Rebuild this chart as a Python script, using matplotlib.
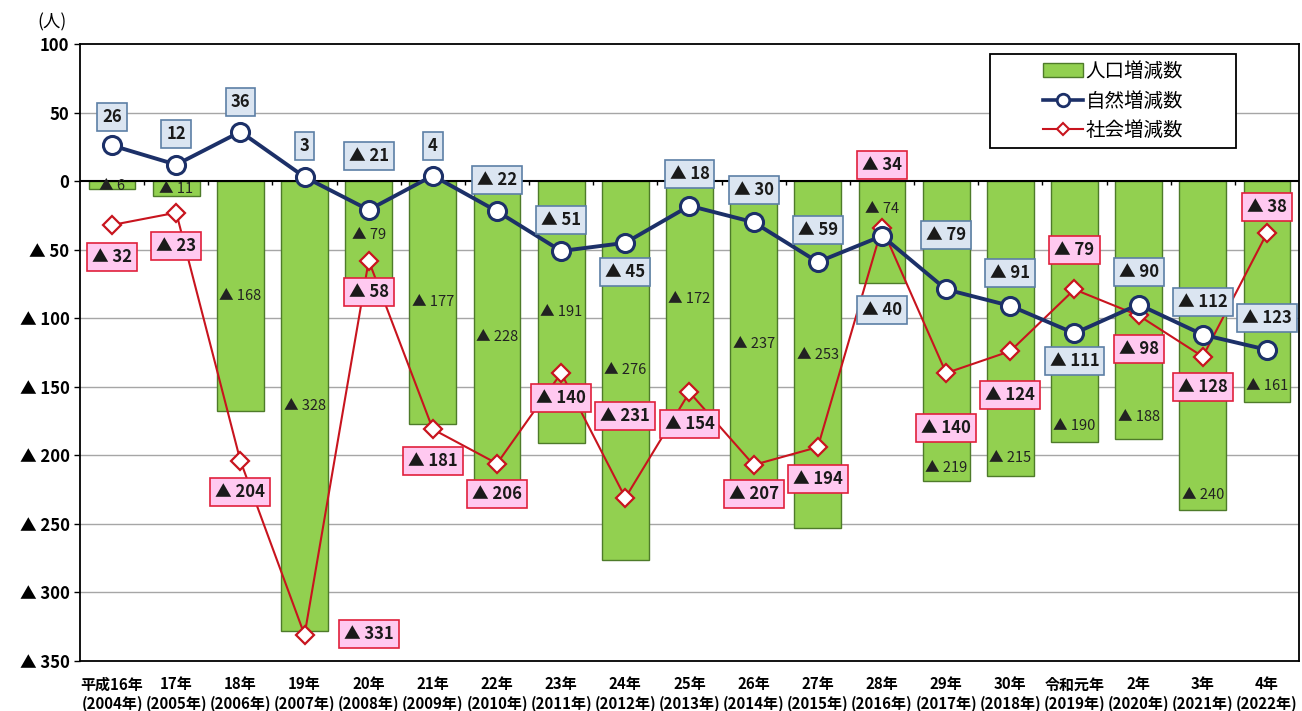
import matplotlib
matplotlib.use('Agg')
import matplotlib.pyplot as plt
from matplotlib.patches import Patch, Rectangle
from matplotlib.lines import Line2D
import numpy as np

plt.rcParams['font.family'] = ['Noto Sans CJK JP', 'DejaVu Sans']

# データ
years = ['平成16年\n(2004年)', '17年\n(2005年)', '18年\n(2006年)', '19年\n(2007年)',
         '20年\n(2008年)', '21年\n(2009年)', '22年\n(2010年)', '23年\n(2011年)',
         '24年\n(2012年)', '25年\n(2013年)', '26年\n(2014年)', '27年\n(2015年)',
         '28年\n(2016年)', '29年\n(2017年)', '30年\n(2018年)', '令和元年\n(2019年)',
         '2年\n(2020年)', '3年\n(2021年)', '4年\n(2022年)']
population = [-6, -11, -168, -328, -79, -177, -228, -191, -276, -172,
              -237, -253, -74, -219, -215, -190, -188, -240, -161]
natural = [26, 12, 36, 3, -21, 4, -22, -51, -45, -18,
           -30, -59, -40, -79, -91, -111, -90, -112, -123]
social = [-32, -23, -204, -331, -58, -181, -206, -140, -231, -154,
          -207, -194, -34, -140, -124, -79, -98, -128, -38]

# ラベル位置の調整（データ単位）
nat_dy = [21, 22, 22, 22.5, 39, 21.5, 23, 23, -21, 23,
          23.5, 23, -54, 40, 24, -20, 24, 24, 23]
soc_dy = [-23.5, -24, -23, 1, -23, -23, -22, -18, 59.5, -23,
          -21, -23.5, 46, -40, -32, 29, -24.6, -22, 19]
soc_dx = [0, 0, 0, 1, 0, 0, 0, 0, 0, 0, 0, 0, 0, 0, 0, 0, 0, 0, 0]
bar_frac = [0.6, 0.55, 0.5, 0.5, 0.5, 0.5, 0.5, 0.5, 0.5, 0.5,
            0.5, 0.5, 0.27, 0.955, 0.94, 0.94, 0.915, 0.955, 0.93]

def fmt(v):
    if v < 0:
        return '▲ ' + str(abs(v))
    return str(v)

green = '#92d050'
navy = '#1c3068'
red = '#c8141e'

fig = plt.figure(figsize=(13.02, 7.11), dpi=100)
ax = fig.add_axes([80/1302, 1-661/711, 1219/1302, 617/711])

x = np.arange(len(years))

ax.bar(x, population, width=0.73, color=green, edgecolor='#4e7b2a', linewidth=1, zorder=2)
ax.plot(x, natural, color=navy, lw=2.8, marker='o', ms=13, mfc='white',
        mec=navy, mew=2.2, zorder=4)
ax.plot(x, social, color=red, lw=1.5, marker='D', ms=9, mfc='white',
        mec=red, mew=1.6, zorder=3)

# 人口増減数ラベル
for i, v in enumerate(population):
    ax.text(x[i], v*bar_frac[i], fmt(v), ha='center', va='center',
            fontsize=10.5, color='#222222', zorder=5)

# 自然増減数ラベル
for i, v in enumerate(natural):
    ax.text(x[i], v + nat_dy[i], fmt(v), ha='center', va='center',
            fontsize=12, fontweight='bold', color='#1a1a1a', zorder=6,
            bbox=dict(boxstyle='square,pad=0.3', fc='#dbe5f1', ec='#5c7fa6', lw=1.2))

# 社会増減数ラベル
for i, v in enumerate(social):
    ax.text(x[i] + soc_dx[i], v + soc_dy[i], fmt(v), ha='center', va='center',
            fontsize=12, fontweight='bold', color='#1a1a1a', zorder=6,
            bbox=dict(boxstyle='square,pad=0.3', fc='#ffc9f0', ec='#e0203c', lw=1.2))

ax.set_xlim(-0.5, len(years)-0.5)
ax.set_ylim(-350, 100)
yt = np.arange(-350, 101, 50)
ax.set_yticks(yt)
ax.set_yticklabels([fmt(int(t)) for t in yt], fontsize=12, fontweight='bold')
ax.set_xticks(x)
ax.set_xticklabels(years, fontsize=10.8, fontweight='bold', linespacing=1.3)
ax.tick_params(axis='x', length=0, pad=11)
ax.tick_params(axis='y', length=4, width=1)

for t in yt:
    if t not in (-350, 0, 100):
        ax.axhline(t, color='#a6a6a6', lw=1, zorder=0)
ax.axhline(0, color='black', lw=1.5, zorder=3)
ax.vlines(np.arange(len(years)-1) + 0.5, -3, 0, color='black', lw=1, zorder=3)

for s in ax.spines.values():
    s.set_color('black')
    s.set_linewidth(1.3)

# 凡例（枠は別に描く）
ax.add_patch(Rectangle((0.7465, 0.8314), 0.9483-0.7465, 0.9838-0.8314,
                       transform=ax.transAxes, facecolor='white', edgecolor='black',
                       lw=1.3, zorder=9))
handles = [Patch(facecolor=green, edgecolor='#4e7b2a', label='人口増減数'),
           Line2D([], [], color=navy, lw=2.6, marker='o', ms=9, mfc='white', mec=navy, mew=2,
                  label='自然増減数'),
           Line2D([], [], color=red, lw=1.5, marker='D', ms=6, mfc='white', mec=red, mew=1.5,
                  label='社会増減数')]
leg = ax.legend(handles=handles, loc='center', bbox_to_anchor=(0.8474, 0.9076),
                borderaxespad=0, fontsize=14, frameon=False, labelspacing=0.45,
                handlelength=2.05, borderpad=0.2, handletextpad=0.15)
leg.set_zorder(10)

fig.text(37/1302, 1-22/711, '(人)', fontsize=12.5, va='center', ha='left')

fig.savefig('out.png', dpi=100)
